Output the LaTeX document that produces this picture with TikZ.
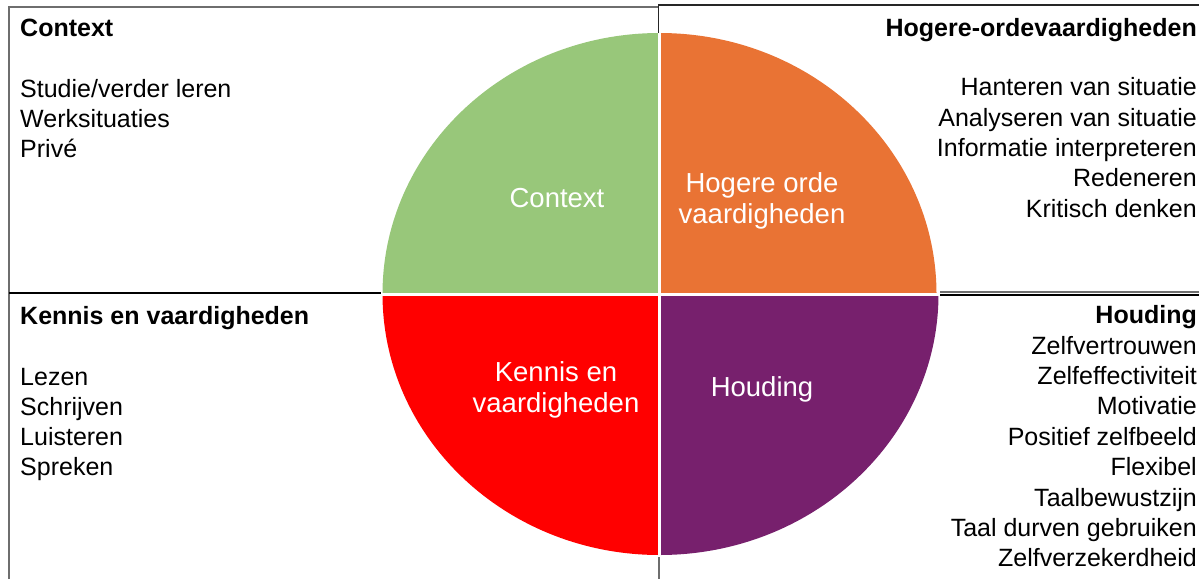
\documentclass[tikz,border=0pt]{standalone}
\usepackage{fontspec}
\setmainfont{Liberation Sans}
\usetikzlibrary{positioning}

\definecolor{ctxgreen}{HTML}{98C77A}
\definecolor{hogorange}{HTML}{E97334}
\definecolor{kenred}{HTML}{FF0000}
\definecolor{houpurple}{HTML}{77206D}
\definecolor{framegray}{HTML}{6E6E6E}

\begin{document}
\begin{tikzpicture}[x=1pt,y=-1pt,
	item/.style={inner sep=0pt, font=\fontsize{25}{30}\selectfont},
	head/.style={item, font=\fontsize{25}{30}\selectfont\bfseries},
	inlabel/.style={inner sep=0pt, text=white, align=center, font=\fontsize{27.5}{31}\selectfont},
	frame/.style={framegray, line width=1.3pt}]
	\useasboundingbox (0,0) rectangle (1199,579);
	\coordinate (c) at (659.5,294);
	% the four quarters
	\fill[ctxgreen] (c) -- ++(-277,0) arc[start angle=180, end angle=270, x radius=277, y radius=261] -- cycle;
	\fill[hogorange] (c) -- ++(0,-261) arc[start angle=270, end angle=360, x radius=277, y radius=261] -- cycle;
	\fill[houpurple] (c) -- ++(279,0) arc[start angle=0, end angle=90, x radius=279, y radius=261] -- cycle;
	\fill[kenred] (c) -- ++(0,261) arc[start angle=90, end angle=180, x radius=277, y radius=261] -- cycle;
	\draw[white, line width=3pt] (659.5,30) -- (659.5,558) (380,294) -- (942,294);
	% frame lines
	\draw[frame] (9,579) |- (658.7,7);
	\draw[frame, black!85] (658.7,33) |- (1199,5);
	\draw[black, line width=1.5pt] (9,293) -- (381,293);
	\draw[frame] (940,292) -- (1199,292);
	\draw[black, line width=1.3pt] (940,295) -- (1199,295);
	\draw[frame, line width=2pt] (659,557) -- (659,579);
	% labels in the circle
	\node[inlabel] (ctxin) at (557,198) {Context};
	\node[inlabel] (hogin) at (762,201) {Hogere orde\\vaardigheden};
	\node[inlabel] (kenin) at (556,390) {Kennis en\\vaardigheden};
	\node[inlabel] (houin) at (762,389) {Houding};
	% Context
	\node[head, anchor=base west] (ctxhead) at (20,36) {Context};
	\foreach \t [count=\i] in {{Studie/verder leren}, Werksituaties, Privé}
		\node[item, anchor=base west] (ctx\i) at (20,67+30*\i) {\t};
	% Hogere-ordevaardigheden
	\node[head, anchor=base east] (hoghead) at (1197,36) {Hogere-ordevaardigheden};
	\foreach \t [count=\i] in {Hanteren van situatie, Analyseren van situatie, Informatie interpreteren, Redeneren, Kritisch denken}
		\node[item, anchor=base east] (hog\i) at (1197,65.5+30.3*\i) {\t};
	% Kennis en vaardigheden
	\node[head, anchor=base west] (kenhead) at (20,324) {Kennis en vaardigheden};
	\foreach \t [count=\i] in {Lezen, Schrijven, Luisteren, Spreken}
		\node[item, anchor=base west] (ken\i) at (20,355+30*\i) {\t};
	% Houding
	\node[head, anchor=base east] (houhead) at (1197,323) {Houding};
	\foreach \t [count=\i] in {Zelfvertrouwen, Zelfeffectiviteit, Motivatie, Positief zelfbeeld, Flexibel, Taalbewustzijn, Taal durven gebruiken, Zelfverzekerdheid}
		\node[item, anchor=base east] (hou\i) at (1197,323.6+30.4*\i) {\t};
\end{tikzpicture}
\end{document}
